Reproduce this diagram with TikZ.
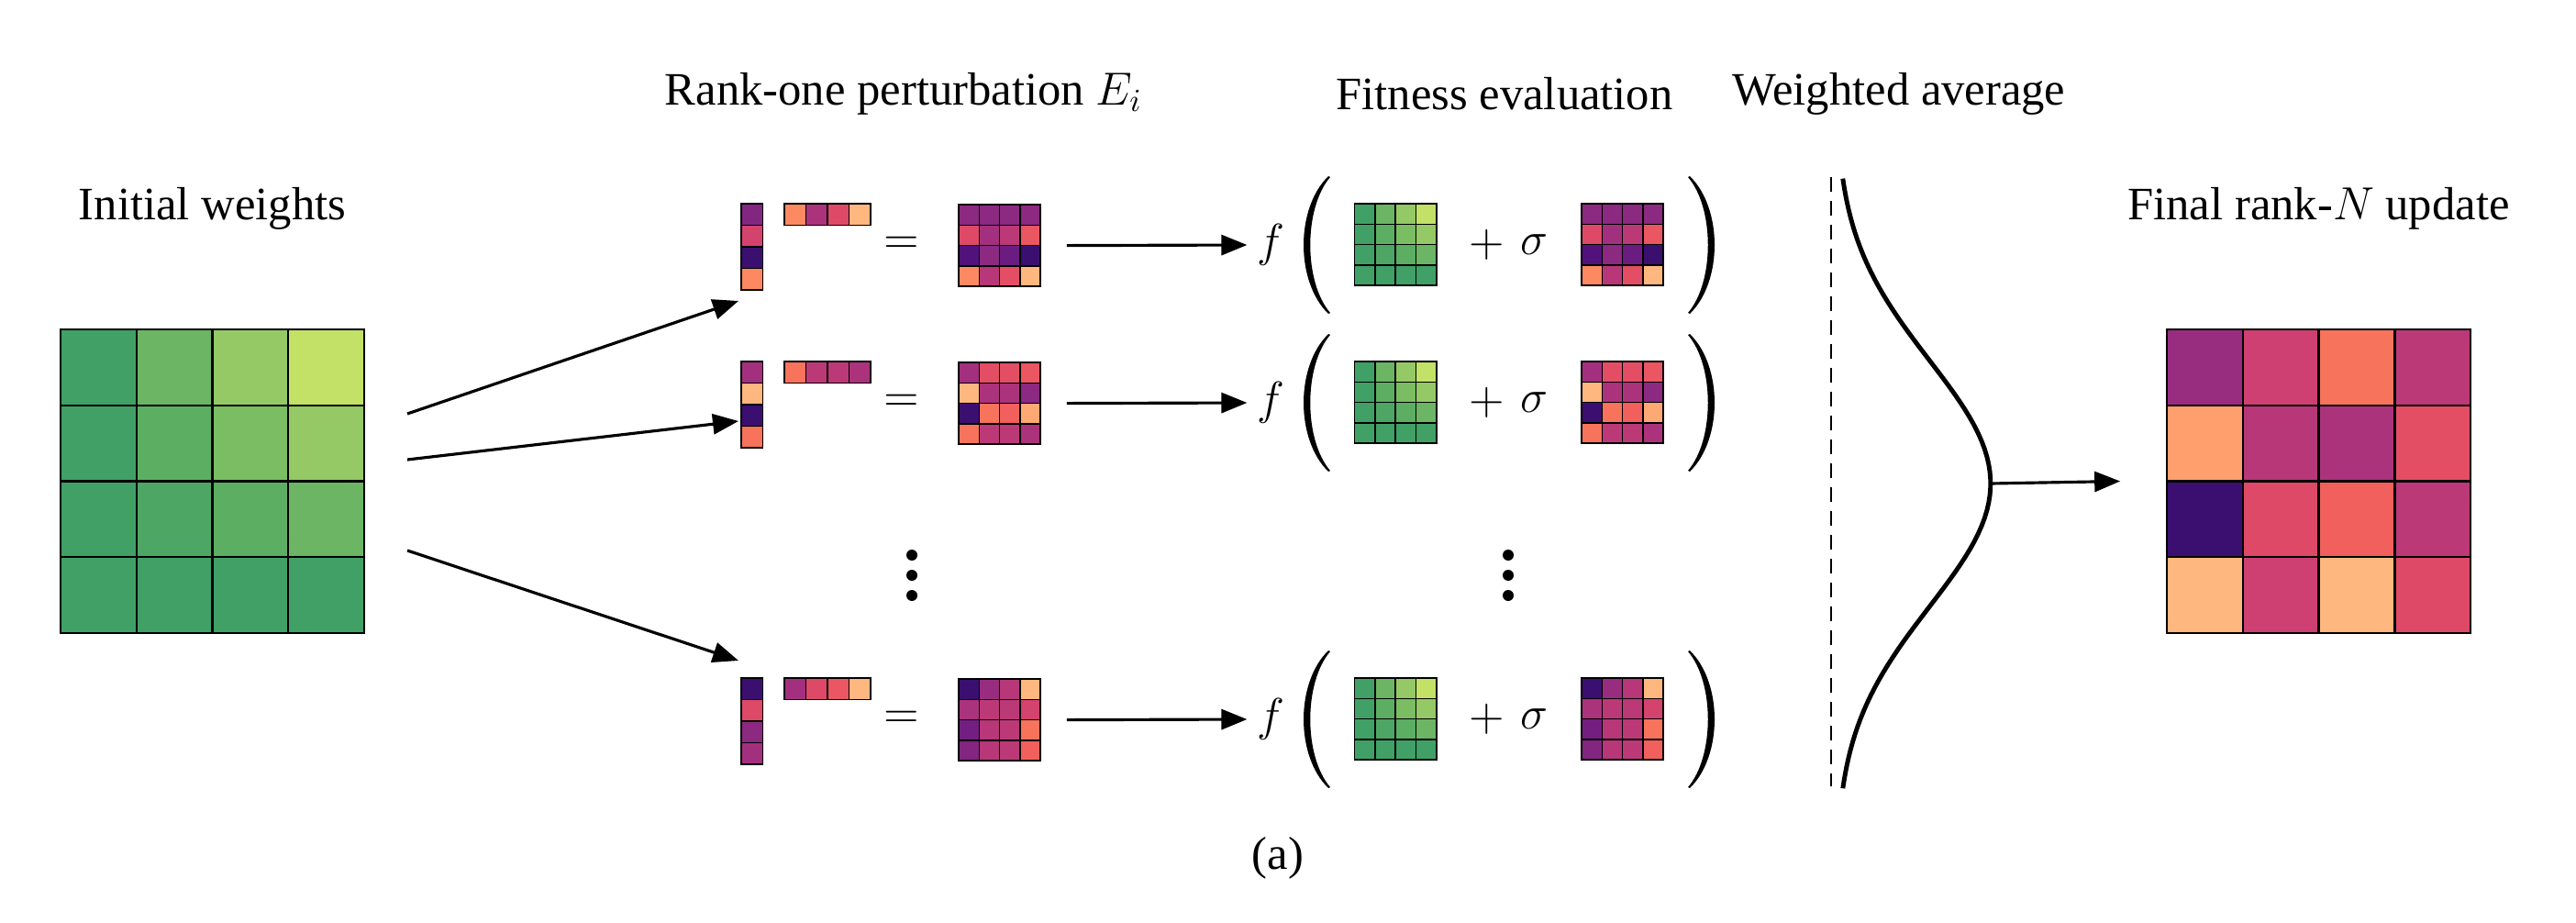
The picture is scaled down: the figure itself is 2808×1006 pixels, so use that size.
\documentclass[tikz,border=0pt]{standalone}
\usepackage{fontspec}
\setmainfont{Liberation Serif}
\usetikzlibrary{arrows.meta}

% greens (initial weights)
\definecolor{gA}{HTML}{40A066}
\definecolor{gB}{HTML}{4EA664}
\definecolor{gC}{HTML}{5CAE63}
\definecolor{gD}{HTML}{6BB565}
\definecolor{gE}{HTML}{7ABD63}
\definecolor{gF}{HTML}{94C966}
\definecolor{gG}{HTML}{C2E166}
% magma
\definecolor{m20}{HTML}{3B0F70}
\definecolor{m25}{HTML}{51127C}
\definecolor{m33}{HTML}{6A1C81}
\definecolor{m36}{HTML}{721F81}
\definecolor{m38}{HTML}{822681}
\definecolor{m40}{HTML}{8C2981}
\definecolor{m43}{HTML}{982D80}
\definecolor{m45}{HTML}{A3307E}
\definecolor{m47}{HTML}{AB337C}
\definecolor{m50}{HTML}{B73779}
\definecolor{m52}{HTML}{BC3978}
\definecolor{m55}{HTML}{CD4071}
\definecolor{m57}{HTML}{D3436E}
\definecolor{m60}{HTML}{DE4968}
\definecolor{m62}{HTML}{E34E65}
\definecolor{m64}{HTML}{EA5661}
\definecolor{m66}{HTML}{F1605D}
\definecolor{m69}{HTML}{F7735C}
\definecolor{m75}{HTML}{FC8961}
\definecolor{m80}{HTML}{FE9F6D}
\definecolor{m83}{HTML}{FEA873}
\definecolor{m86}{HTML}{FEB77E}

% style, x, y, cell, columns, colours
\newcommand{\drawgrid}[6]{%
  \foreach \cc [count=\k from 0] in {#6} {
    \pgfmathtruncatemacro{\mrow}{div(\k,#5)}
    \pgfmathtruncatemacro{\mcol}{mod(\k,#5)}
    \draw[#1, fill=\cc] ({#2+\mcol*#4},{#3+\mrow*#4}) rectangle ++(#4,#4);
  }}

% big brackets, centre x, y
\newcommand{\lbig}[2]{%
  \fill ({#1+14},{#2-75}) .. controls ({#1-22},{#2-40}) and ({#1-22},{#2+40}) .. ({#1+14},{#2+75})
    -- ({#1+16},{#2+74}) .. controls ({#1-13},{#2+40}) and ({#1-13},{#2-40}) .. ({#1+16},{#2-74}) -- cycle;}
\newcommand{\rbig}[2]{%
  \fill ({#1-14},{#2-75}) .. controls ({#1+22},{#2-40}) and ({#1+22},{#2+40}) .. ({#1-14},{#2+75})
    -- ({#1-16},{#2+74}) .. controls ({#1+13},{#2+40}) and ({#1+13},{#2-40}) .. ({#1-16},{#2-74}) -- cycle;}

\tikzset{
  cell/.style={draw=black, line width=0.45pt},
  bigcell/.style={draw=black, line width=0.7pt},
  arr/.style={-{Triangle[length=0.28cm,width=0.22cm]}, line width=0.9pt},
  box/.style={inner sep=0, minimum size=#1},
}

\begin{document}
\begin{tikzpicture}[x=0.01cm, y=-0.01cm, font=\Large]
\useasboundingbox (0,0) rectangle (2808,1006);

% Titles
\node (t-init) at (231.5,227) {Initial weights};
\node (t-rank) at (985,102) {Rank-one perturbation $E_i$};
\node (t-fit) at (1640,102) {Fitness evaluation};
\node (t-avg) at (2070,102) {Weighted average};
\node (t-fin) at (2527.5,227) {Final rank-$N$ update};
\node (cap) at (1393,935) {(a)};

% Initial weights
\drawgrid{bigcell}{66}{359}{82.75}{4}{gA,gD,gF,gG, gA,gC,gE,gF, gA,gB,gC,gD, gA,gA,gA,gA}
\node[box=3.31cm] (init) at (231.5,524.5) {};

% Row 1
\drawgrid{cell}{808}{222}{23.5}{1}{m38,m57,m20,m75}
\drawgrid{cell}{855}{222}{23.5}{4}{m75,m47,m60,m86}
\drawgrid{cell}{1045}{223}{22.3}{4}{m40,m40,m40,m40, m60,m45,m52,m64, m25,m40,m33,m20, m75,m50,m62,m86}
\node[box=0.89cm] (P1) at (1089.6,267.6) {};
\node (eq1) at (983,267) {$=$};
\node[inner sep=0] (f1) at (1385,267) {$f$};
\lbig{1434}{267}
\drawgrid{cell}{1476.5}{222}{22.3}{4}{gA,gD,gF,gG, gA,gC,gE,gF, gA,gB,gC,gD, gA,gA,gA,gA}
\node (pl1) at (1621,267) {$+$};
\node (sg1) at (1672,267) {$\sigma$};
\drawgrid{cell}{1724}{222}{22.3}{4}{m40,m40,m40,m40, m60,m45,m52,m64, m25,m40,m33,m20, m75,m50,m62,m86}
\rbig{1856}{267}

% Row 2
\drawgrid{cell}{808}{394}{23.5}{1}{m45,m86,m20,m69}
\drawgrid{cell}{855}{394}{23.5}{4}{m69,m52,m52,m47}
\drawgrid{cell}{1045}{395}{22.3}{4}{m45,m62,m62,m64, m86,m47,m47,m40, m20,m69,m66,m83, m69,m52,m52,m47}
\node[box=0.89cm] (P2) at (1089.6,439.6) {};
\node (eq2) at (983,439) {$=$};
\node[inner sep=0] (f2) at (1385,439) {$f$};
\lbig{1434}{439}
\drawgrid{cell}{1476.5}{394}{22.3}{4}{gA,gD,gF,gG, gA,gC,gE,gF, gA,gB,gC,gD, gA,gA,gA,gA}
\node (pl2) at (1621,439) {$+$};
\node (sg2) at (1672,439) {$\sigma$};
\drawgrid{cell}{1724}{394}{22.3}{4}{m45,m62,m62,m64, m86,m47,m47,m40, m20,m69,m66,m83, m69,m52,m52,m47}
\rbig{1856}{439}

% Row 3
\drawgrid{cell}{808}{739}{23.5}{1}{m20,m60,m40,m45}
\drawgrid{cell}{855}{739}{23.5}{4}{m45,m60,m64,m86}
\drawgrid{cell}{1045}{740}{22.3}{4}{m20,m43,m50,m86, m47,m52,m52,m57, m36,m50,m52,m69, m38,m50,m52,m66}
\node[box=0.89cm] (P3) at (1089.6,784.6) {};
\node (eq3) at (983,784) {$=$};
\node[inner sep=0] (f3) at (1385,784) {$f$};
\lbig{1434}{784}
\drawgrid{cell}{1476.5}{739}{22.3}{4}{gA,gD,gF,gG, gA,gC,gE,gF, gA,gB,gC,gD, gA,gA,gA,gA}
\node (pl3) at (1621,784) {$+$};
\node (sg3) at (1672,784) {$\sigma$};
\drawgrid{cell}{1724}{739}{22.3}{4}{m20,m43,m50,m86, m47,m52,m52,m57, m36,m50,m52,m69, m38,m50,m52,m66}
\rbig{1856}{784}

% Dots
\foreach \dy in {605,627,649} {
  \fill (994,\dy) circle[radius=6];
  \fill (1644,\dy) circle[radius=6];
}

% Fan out
\coordinate (s1) at (444,451);
\coordinate (s2) at (444,501);
\coordinate (s3) at (444,600);
\coordinate (e1) at (805,328);
\coordinate (e2) at (805,459);
\coordinate (e3) at (805,720);
\draw[arr] (s1) -- (e1);
\draw[arr] (s2) -- (e2);
\draw[arr] (s3) -- (e3);

% To fitness
\draw[arr] ([xshift=0.28cm]P1.east) -- ([xshift=-0.1cm]f1.west);
\draw[arr] ([xshift=0.28cm]P2.east) -- ([xshift=-0.1cm]f2.west);
\draw[arr] ([xshift=0.28cm]P3.east) -- ([xshift=-0.1cm]f3.west);

% Weighted average
\draw[line width=0.6pt, dash pattern=on 0.16cm off 0.1cm] (1996,193) -- (1996,857);
\draw[line width=1.4pt] plot[domain=-2.48:2.48, samples=80, variable=\t] ({2001+168.8*exp(-\t*\t/2)}, {527+134*\t});
\coordinate (peak) at (2170,527);

% Final update
\drawgrid{bigcell}{2362}{359}{82.75}{4}{m43,m55,m69,m52, m80,m50,m47,m62, m20,m60,m66,m52, m86,m55,m86,m60}
\node[box=3.31cm] (fin) at (2527.5,524.5) {};
\draw[arr] (peak) -- ([xshift=-0.5cm]fin.west);

\end{tikzpicture}
\end{document}
